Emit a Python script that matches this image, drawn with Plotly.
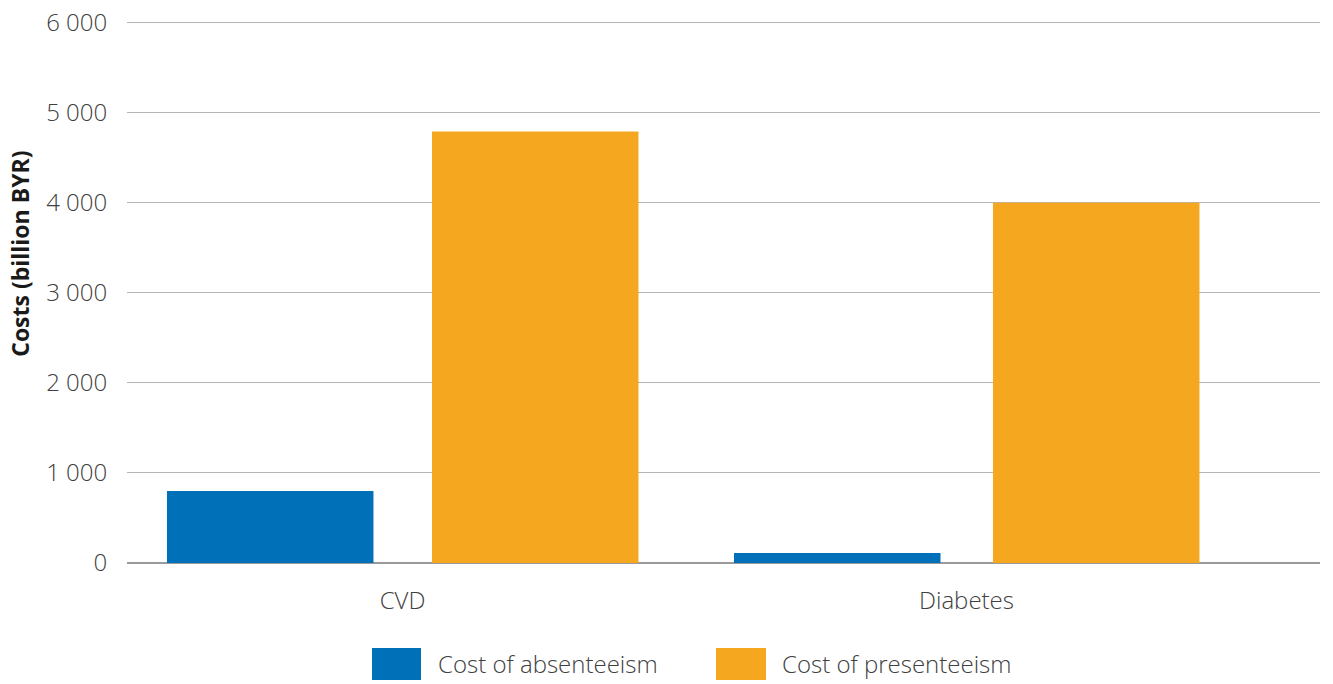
import plotly.graph_objects as go

categories = ["CVD", "Diabetes"]
series_names = ["Cost of absenteeism", "Cost of presenteeism"]
absenteeism = [800, 110]
presenteeism = [4790, 4000]
series_values = [absenteeism, presenteeism]
colors = ["#0070B8", "#F5A81F"]
y_ticks = [0, 1000, 2000, 3000, 4000, 5000, 6000]
y_title = "Costs (billion BYR)"

# body margin removed via post_script, so page px == figure px
W, H = 1333, 684
Y_MAX = 6040
pb = 563                             # plot bottom (px)
ph = 540 * Y_MAX / 6000              # plot height
mt = pb - ph
ml = 127
pr = 1320
mr, mb = W - pr, H - pb
pw = pr - ml

FONT = "Open Sans"
TXT = "#404040"

bar_w = 0.3661
offsets = [[-0.4176, -0.4122], [0.0523, 0.0470]]

fig = go.Figure()
for name, vals, col, off in zip(series_names, series_values, colors, offsets):
    fig.add_trace(go.Bar(
        x=categories, y=vals, name=name, marker=dict(color=col, line=dict(width=0)),
        width=bar_w, offset=off, showlegend=False,
    ))

# px -> paper coords
def px_x(p):
    return (p - ml) / pw

def px_y(p):
    return (pb - p) / ph

# custom legend with large swatches
swatch_x = [(372, 421), (716, 766)]
text_x = [436, 780]
for (x0, x1), tx, name, col in zip(swatch_x, text_x, series_names, colors):
    fig.add_shape(type="rect", xref="paper", yref="paper",
                  x0=px_x(x0), x1=px_x(x1), y0=px_y(680), y1=px_y(648),
                  fillcolor=col, line=dict(width=0))
    fig.add_annotation(xref="paper", yref="paper", x=px_x(tx), y=px_y(663),
                       text=name, showarrow=False, xanchor="left", yanchor="middle",
                       font=dict(family=FONT, size=24, color=TXT, weight=300))

# y axis title
fig.add_annotation(xref="paper", yref="paper", x=px_x(20), y=px_y(254),
                   text=y_title, showarrow=False, textangle=-90,
                   xanchor="center", yanchor="middle",
                   font=dict(family=FONT, size=23, color="#1a1a1a", weight=700))

fig.update_layout(
    width=W, height=H,
    margin=dict(l=ml, r=mr, t=mt, b=mb, autoexpand=False),
    plot_bgcolor="white", paper_bgcolor="white",
    separators=". ",
    barmode="group",
    font=dict(family=FONT, size=24, color=TXT, weight=300),
    xaxis=dict(
        range=[-0.4885, 1.6268], showgrid=False, showline=False, zeroline=False,
        ticks="outside", ticklen=16, tickcolor="rgba(0,0,0,0)",
        tickfont=dict(family=FONT, size=24, color=TXT, weight=300),
    ),
    yaxis=dict(
        range=[0, Y_MAX], tickvals=y_ticks, tickformat=",d",
        showgrid=True, gridcolor="#B4B4B4", gridwidth=1,
        zeroline=True, zerolinecolor="#9A9A9A", zerolinewidth=1.5,
        showline=False, ticklabeloverflow="allow",
        ticks="outside", ticklen=14, tickcolor="rgba(0,0,0,0)",
        tickfont=dict(family=FONT, size=24, color=TXT, weight=300),
        automargin=False,
    ),
)

fig.write_html("out.html",
               config={"displayModeBar": False},
               post_script="document.body.style.margin='0';document.body.style.overflow='hidden';")
